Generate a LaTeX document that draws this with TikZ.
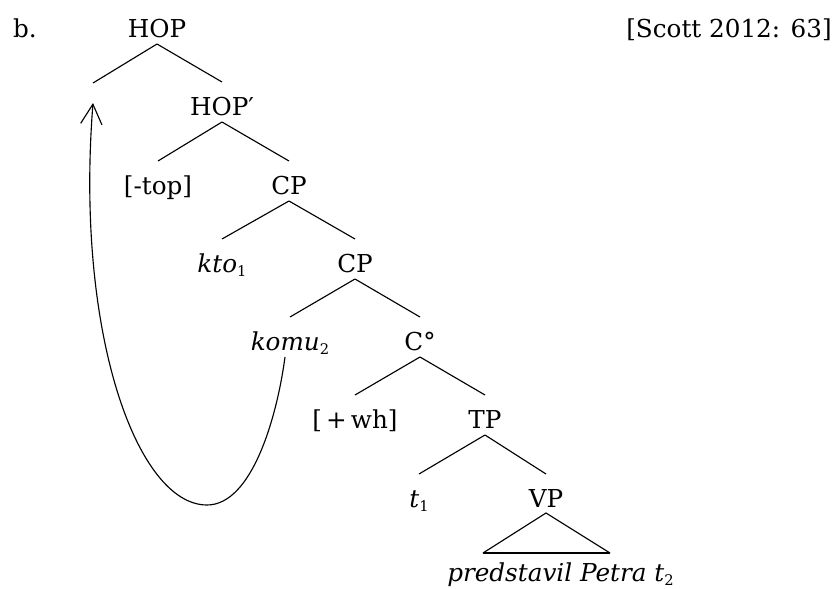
\documentclass[tikz,border=0pt]{standalone}
\usepackage{fontspec}
\setmainfont{DejaVu Serif}
\usetikzlibrary{calc,arrows.meta}
% upright index on a trace or wh-word
\newcommand\subidx[1]{\raisebox{-0.35ex}{\upshape\fontsize{11}{11}\selectfont #1}}
\begin{document}
\begin{tikzpicture}[x=0.75pt,y=-0.75pt,
  lbl/.style={anchor=base,inner sep=0pt,font=\fontsize{18.5}{22}\selectfont},
  branch/.style={line width=0.85pt},
  move/.style={line width=0.85pt,-{Straight Barb[length=15pt,width=16pt]}}]
\useasboundingbox (0,0) rectangle (840,589);

% labels
\node[lbl] (ex) at (25,37) {b.};
\node[lbl,anchor=base east] (src) at (832,37) {[Scott 2012: 63]};
\node[lbl] (hop) at (157,37) {HOP};
\coordinate (spec) at (93,83);
\node[lbl] (hopbar) at (222,115) {HOP′};
\node[lbl] (top) at (158,194) {[-top]};
\node[lbl] (cp1) at (289,194) {CP};
\node[lbl] (kto) at (222,272) {\textit{kto}\subidx{1}};
\node[lbl] (cp2) at (355,272) {CP};
\node[lbl] (komu) at (290,350) {\textit{komu}\subidx{2}};
\node[lbl] (c0) at (420,350) {C°};
\node[lbl] (wh) at (355,428) {[\,+\,wh]};
\node[lbl] (tp) at (485,428) {TP};
\node[lbl] (t1) at (419,507) {\textit{t}\subidx{1}};
\node[lbl] (vp) at (546,507) {VP};
\node[lbl,anchor=base west] (terminal) at (447,581) {\textit{predstavil Petra t}\subidx{2}};

% branches
\draw[branch] ($(hop.base)+(0,7)$) -- (spec);
\foreach \p/\c in {hop/hopbar, hopbar/top, hopbar/cp1, cp1/kto, cp1/cp2,
                   cp2/komu, cp2/c0, c0/wh, c0/tp, tp/t1, tp/vp}
  \draw[branch] ($(\p.base)+(0,7)$) -- ($(\c.base)+(0,-33)$);

% roof over the VP
\draw[branch] ($(vp.base)+(-63,46)$) -- ($(vp.base)+(0,6)$) -- ($(vp.base)+(64,46)$);
\draw[line width=1.5pt] ($(vp.base)+(-63,46)$) -- ($(vp.base)+(64,46)$);

% movement of komu to the specifier of HOP
\coordinate (trough) at (207,505);
\coordinate (landing) at (93,103);
\draw[move] ($(komu.base)+(-5,7)$) .. controls +(-8,60) and +(45,0) .. (trough)
  .. controls +(-70,0) and +(-18,230) .. (landing);
\end{tikzpicture}
\end{document}
